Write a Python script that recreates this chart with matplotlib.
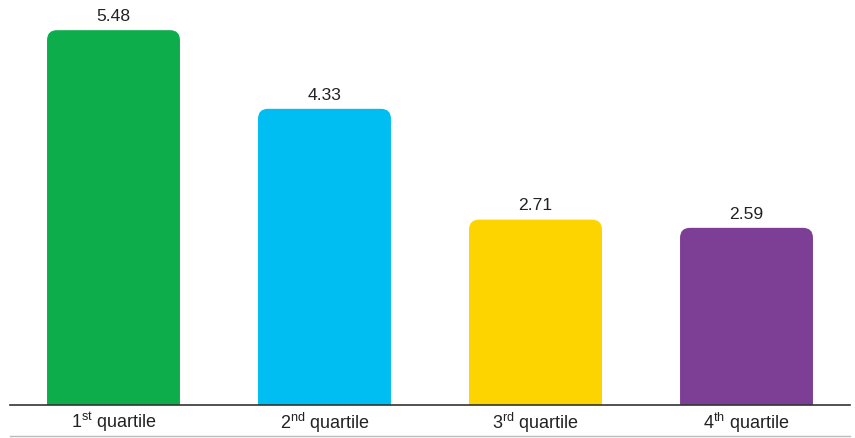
import matplotlib
matplotlib.use('Agg')
import matplotlib.pyplot as plt
from matplotlib.patches import FancyBboxPatch
from matplotlib.lines import Line2D

plt.rcParams['font.family'] = ['Liberation Sans', 'DejaVu Sans']
plt.rcParams['mathtext.fontset'] = 'custom'
plt.rcParams['mathtext.rm'] = 'Liberation Sans'

# data
categories = ['1$^{\\mathrm{st}}$ quartile', '2$^{\\mathrm{nd}}$ quartile',
              '3$^{\\mathrm{rd}}$ quartile', '4$^{\\mathrm{th}}$ quartile']
values = [5.48, 4.33, 2.71, 2.59]
colors = ['#0DAD4B', '#00BEF2', '#FDD300', '#7D3F96']

fig = plt.figure(figsize=(8.55, 4.38), dpi=100)
ax = fig.add_axes([10 / 855, 33 / 438, 840 / 855, 405 / 438])

x = list(range(len(values)))
bars = ax.bar(x, values, width=0.63, color=colors)

# swap plain bars for ones with rounded top corners
rx = 0.047
aspect = (10 / 68.4) / rx
for b, c in zip(bars, colors):
    b.set_visible(False)
    patch = FancyBboxPatch((b.get_x(), -0.5), b.get_width(), b.get_height() + 0.5,
                           boxstyle=f'round,pad=0,rounding_size={rx}',
                           mutation_aspect=aspect, fc=c, ec='none')
    ax.add_patch(patch)
    ax.annotate(f'{b.get_height():.2f}', (b.get_x() + b.get_width() / 2, b.get_height()),
                xytext=(0, 4.5), textcoords='offset points', ha='center', va='bottom',
                fontsize=12.6, color='#222222')

ax.set_xlim(-0.4905, 3.4905)
ax.set_ylim(0, 405 / 68.4)
ax.set_xticks(x)
ax.set_xticklabels(categories, fontsize=13, color='#222222')
ax.tick_params(axis='x', length=0, pad=4)
ax.set_yticks([])
for s in ['top', 'right', 'left']:
    ax.spines[s].set_visible(False)
ax.spines['bottom'].set_color('#333333')
ax.spines['bottom'].set_linewidth(1.2)

# thin grey rule under the labels
fig.add_artist(Line2D([10 / 855, 850 / 855], [2.5 / 438, 2.5 / 438],
                      transform=fig.transFigure, color='#BBBBBB', lw=1))

plt.savefig('out.png', dpi=100)
